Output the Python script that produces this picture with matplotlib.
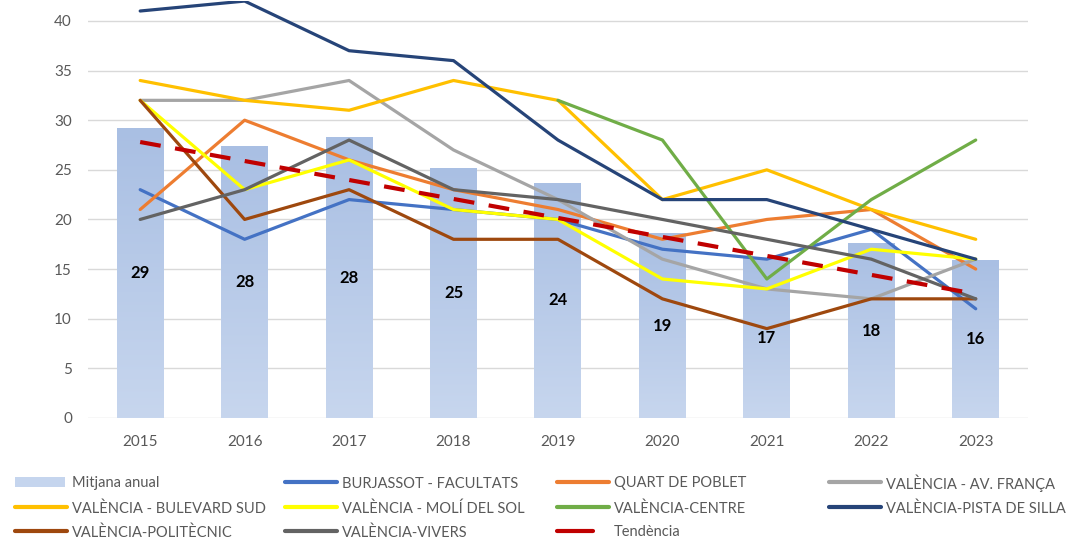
import numpy as np
import matplotlib.pyplot as plt
from matplotlib.patches import Rectangle
from matplotlib.lines import Line2D

plt.rcParams['font.family'] = ['Lato', 'DejaVu Sans']

# dades
anys = ['2015', '2016', '2017', '2018', '2019', '2020', '2021', '2022', '2023']
mitjana = [29.2, 27.4, 28.3, 25.2, 23.7, 18.6, 16.1, 17.6, 15.9]
mitjana_etiquetes = ['29', '28', '28', '25', '24', '19', '17', '18', '16']

burjassot = [23, 18, 22, 21, 20, 17, 16, 19, 11]
quart = [21, 30, 26, 23, 21, 18, 20, 21, 15]
av_franca = [32, 32, 34, 27, 22, 16, 13, 12, 16]
bulevard_sud = [34, 32, 31, 34, 32, 22, 25, 21, 18]
moli_del_sol = [32, 23, 26, 21, 20, 14, 13, 17, 16]
centre = [None, None, None, None, 32, 28, 14, 22, 28]
pista_silla = [41, 42, 37, 36, 28, 22, 22, 19, 16]
politecnic = [32, 20, 23, 18, 18, 12, 9, 12, 12]
vivers = [20, 23, 28, 23, 22, 20, 18, 16, 12]
tendencia_anys = ['2015', '2023']
tendencia = [27.8, 12.5]

series = [
    ('BURJASSOT - FACULTATS', burjassot, '#4472C4'),
    ('QUART DE POBLET', quart, '#ED7D31'),
    ('VALÈNCIA - AV. FRANÇA', av_franca, '#A5A5A5'),
    ('VALÈNCIA - BULEVARD SUD', bulevard_sud, '#FFC000'),
    ('VALÈNCIA - MOLÍ DEL SOL', moli_del_sol, '#FFFF00'),
    ('VALÈNCIA-CENTRE', centre, '#70AD47'),
    ('VALÈNCIA-PISTA DE SILLA', pista_silla, '#264478'),
    ('VALÈNCIA-POLITÈCNIC', politecnic, '#9E480E'),
    ('VALÈNCIA-VIVERS', vivers, '#636363'),
]
colors = {nom: col for nom, vals, col in series}

W, H = 1070, 540
fig = plt.figure(figsize=(W / 100, H / 100), dpi=100)
ax = fig.add_axes([0.0822, 0.226, 0.8785, 0.772])

x = np.arange(len(anys))

# barres amb degradat
bars = ax.bar(x, mitjana, width=0.45, color='#B4C7E7', zorder=2)
grad = np.linspace(0, 1, 256).reshape(-1, 1)
cmap = plt.matplotlib.colors.LinearSegmentedColormap.from_list('g', ['#C7D6EE', '#A9BFE3'])
for b in bars:
    bx, by = b.get_x(), b.get_y()
    im = ax.imshow(grad, cmap=cmap, aspect='auto', origin='lower',
                   extent=[bx, bx + b.get_width(), by, by + b.get_height()], zorder=2)
    im.set_clip_path(b)
    b.set_facecolor('none')

for xi, v, lab in zip(x, mitjana, mitjana_etiquetes):
    ax.text(xi, v / 2, lab, ha='center', va='center', fontsize=12,
            fontweight='bold', color='black', zorder=5)

for nom, vals, col in series:
    y = np.array([np.nan if v is None else v for v in vals], dtype=float)
    ax.plot(x, y, color=col, lw=2.3, zorder=3, solid_capstyle='round', solid_joinstyle='round')

tx = [anys.index(a) for a in tendencia_anys]
ax.plot(tx, tendencia, color='#C00000', lw=3, ls=(0, (5, 3.5)), zorder=4)

ax.set_xlim(-0.5, len(anys) - 0.5)
ax.set_ylim(0, 42)
ax.set_yticks(range(0, 41, 5))
ax.set_xticks(x)
ax.set_xticklabels(anys)
ax.grid(axis='y', color='#D9D9D9', lw=1, zorder=0)
ax.set_axisbelow(True)
for s in ax.spines.values():
    s.set_visible(False)
ax.tick_params(length=0, labelsize=11, colors='#595959')
ax.tick_params(axis='x', pad=12)
ax.tick_params(axis='y', pad=11.5)

# llegenda feta a mà (columnes d'amplada fixa com a Excel)
files_y = [482, 507, 531]
columnes = [
    (15, ['Mitjana anual', 'VALÈNCIA - BULEVARD SUD', 'VALÈNCIA-POLITÈCNIC']),
    (285, ['BURJASSOT - FACULTATS', 'VALÈNCIA - MOLÍ DEL SOL', 'VALÈNCIA-VIVERS']),
    (557, ['QUART DE POBLET', 'VALÈNCIA-CENTRE', 'Tendència']),
    (829, ['VALÈNCIA - AV. FRANÇA', 'VALÈNCIA-PISTA DE SILLA']),
]
for x0, noms in columnes:
    for py, nom in zip(files_y, noms):
        fy = 1 - py / H
        if nom == 'Mitjana anual':
            fig.add_artist(Rectangle((x0 / W, fy - 5 / H), 50 / W, 10 / H,
                                     transform=fig.transFigure, color='#C5D5EE', lw=0))
        elif nom == 'Tendència':
            fig.add_artist(Line2D([x0 / W, (x0 + 36) / W], [fy, fy], transform=fig.transFigure,
                                  color='#C00000', lw=3, solid_capstyle='round'))
        else:
            fig.add_artist(Line2D([x0 / W, (x0 + 52) / W], [fy, fy], transform=fig.transFigure,
                                  color=colors[nom], lw=3, solid_capstyle='round'))
        fig.text((x0 + 57) / W, fy, nom, ha='left', va='center_baseline',
                 fontsize=10.5, color='#595959')

fig.savefig('out.png', dpi=100)
